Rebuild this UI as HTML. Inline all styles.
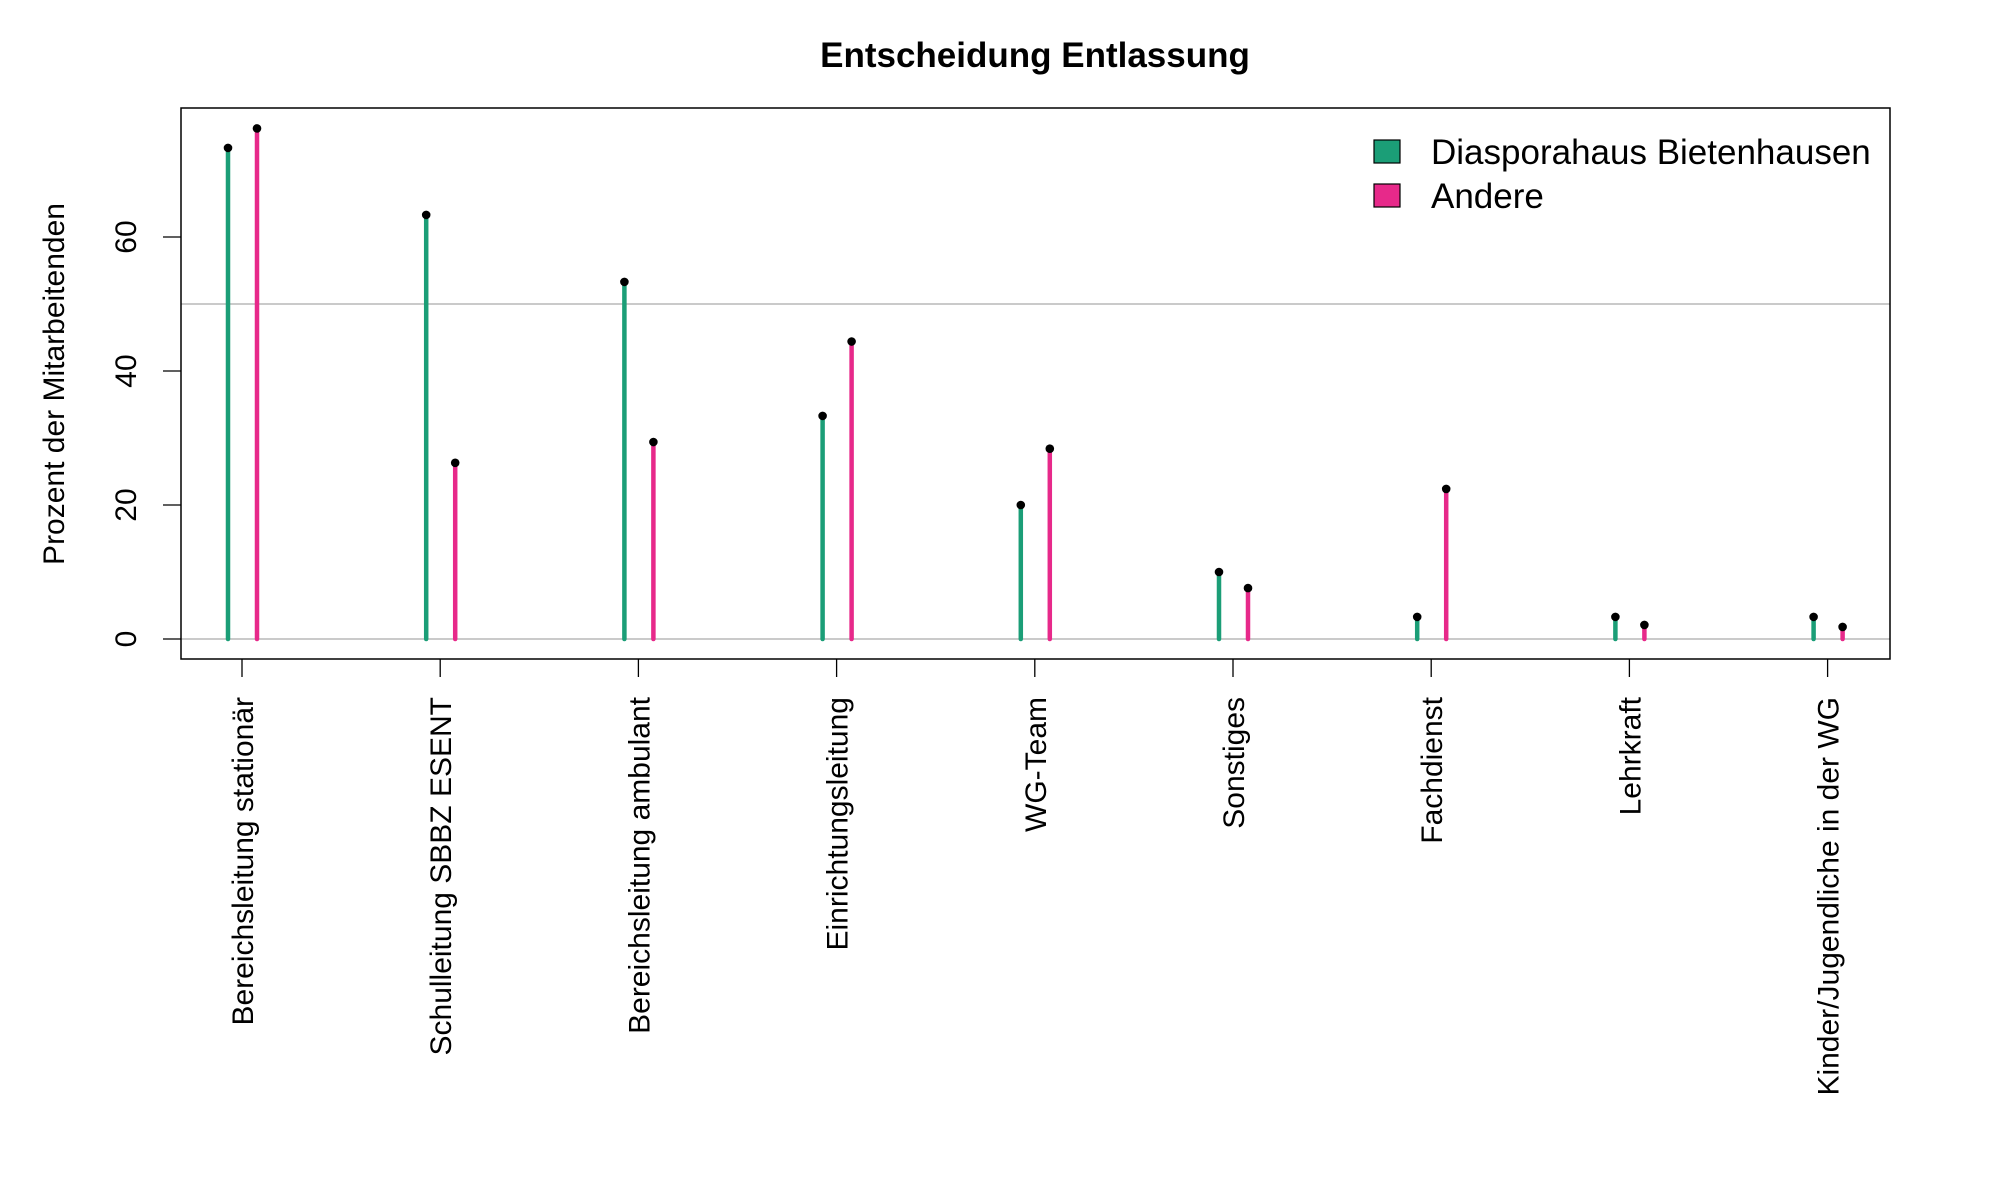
<!DOCTYPE html>
<html><head><meta charset="utf-8"><style>body{margin:0;background:#fff}svg{display:block;font-family:"Liberation Sans",sans-serif}</style></head>
<body>
<svg id="c" width="2000" height="1200" viewBox="0 0 2000 1200"></svg>
<script>
const categories=["Bereichsleitung stationär","Schulleitung SBBZ ESENT","Bereichsleitung ambulant","Einrichtungsleitung","WG-Team","Sonstiges","Fachdienst","Lehrkraft","Kinder/Jugendliche in der WG"];
const seriesDiaspora=[73.3,63.3,53.3,33.3,20,10,3.3,3.3,3.3];
const seriesAndere=[76.2,26.3,29.4,44.4,28.4,7.6,22.4,2.1,1.8];
const yTicks=[0,20,40,60];
const seriesNames=["Diasporahaus Bietenhausen","Andere"];
const colors=["#1b9e77","#e7298a"];
const svg=document.getElementById('c');const NS="http://www.w3.org/2000/svg";
function el(t,a,p){const e=document.createElementNS(NS,t);for(const k in a)e.setAttribute(k,a[k]);(p||svg).appendChild(e);return e;}
const L=181,R=1890,T=108,B=659;
const y=v=>639-v*(402/60);
const x=i=>242+i*198.2;
let e;
e=el('text',{x:1035,y:67,'text-anchor':'middle','font-size':35,'font-weight':'bold'});e.textContent="Entscheidung Entlassung";


e=el('line',{x1:L,x2:R,y1:y(0),y2:y(0),stroke:'#aaa','stroke-width':1.3});


e=el('line',{x1:L,x2:R,y1:y(50),y2:y(50),stroke:'#aaa','stroke-width':1.3});


e=el('rect',{x:L,y:T,width:R-L,height:B-T,fill:'none',stroke:'#000','stroke-width':1.5});


yTicks.forEach(v=>{
 e=el('line',{x1:L-18,x2:L,y1:y(v),y2:y(v),stroke:'#000','stroke-width':1.3});
 
 
 e=el('text',{x:0,y:0,'text-anchor':'middle','font-size':30,transform:`translate(136,${y(v)}) rotate(-90)`});e.textContent=v;
 
 
});
e=el('text',{x:0,y:0,'text-anchor':'middle','font-size':30,transform:'translate(64,384) rotate(-90)'});e.textContent="Prozent der Mitarbeitenden";


categories.forEach((c,i)=>{
 e=el('line',{x1:x(i),x2:x(i),y1:B,y2:B+18,stroke:'#000','stroke-width':1.3});
 
 
 e=el('text',{x:0,y:0,'text-anchor':'end','font-size':30,transform:`translate(${x(i)+11},697) rotate(-90)`});e.textContent=c;
 
 
 [seriesDiaspora,seriesAndere].forEach((s,k)=>{
  const xx=x(i)+(k?15:-14);
  e=el('line',{x1:xx,x2:xx,y1:y(0),y2:y(s[i]),stroke:colors[k],'stroke-width':4.5,'stroke-linecap':'round'});
  
  
  e=el('circle',{cx:xx,cy:y(s[i]),r:4.3,fill:'#000'});
  
  
 });
});
seriesNames.forEach((n,k)=>{
 e=el('rect',{x:1374,y:140+k*44,width:26,height:23,fill:colors[k],stroke:'#000','stroke-width':1.2});
 
 
 e=el('text',{x:1431,y:164+k*44,'font-size':35});e.textContent=n;
 
 
});
</script>
</body></html>
